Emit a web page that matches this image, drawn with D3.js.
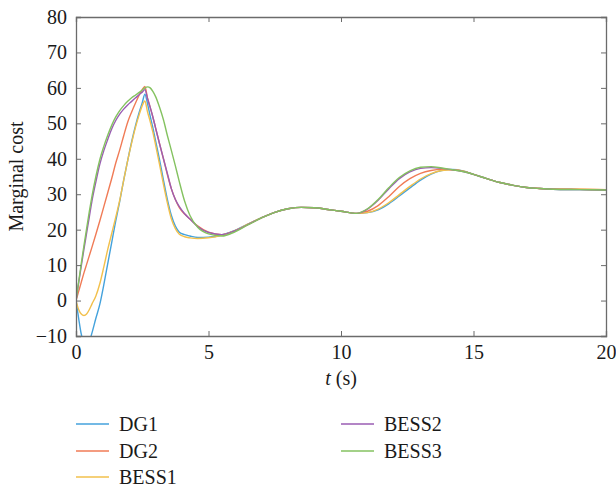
<!DOCTYPE html>
<html>
<head>
<meta charset="utf-8">
<script src="https://cdn.jsdelivr.net/npm/d3@7"></script>
<style>
  html, body { margin: 0; padding: 0; background: #fff; }
  text { font-family: "Liberation Serif", "Times New Roman", serif; fill: #1a1a1a; }
</style>
</head>
<body>
<svg id="chart" width="616" height="487"></svg>
<script>
const time = [0, 0.1, 0.2, 0.3, 0.4, 0.5, 0.6, 0.75, 0.9, 1.05, 1.2, 1.35, 1.5, 1.65, 1.8, 1.95,
  2.1, 2.25, 2.4, 2.5, 2.6, 2.7, 2.8, 2.9, 3.0, 3.15, 3.3, 3.45, 3.6, 3.75, 3.9, 4.1, 4.3, 4.6, 5.0,
  5.5, 6.0, 6.5, 7.0, 7.5, 8.0, 8.5, 9.0, 9.5, 10.0, 10.6, 11.0, 11.4, 11.8, 12.2, 12.6, 13.0, 13.4, 13.8, 14.2,
  14.6, 15.0, 15.5, 16.0, 16.5, 17.0, 17.5, 18.0, 19.0, 20.0];

const dg1 = [0, -5, -9.5, -11.8, -12.5, -11.6, -9.2, -5, -1, 4.5, 10.5, 16.5, 22.5, 28, 34, 39.5,
  44.8, 49.5, 53.5, 55.8, 58.2, 55.5, 52, 48.8, 45.2, 39.8, 34, 28.5, 24, 21, 19.3, 18.6, 18.2, 17.8, 17.9,
  18.5, 19.8, 21.6, 23.4, 24.9, 25.9, 26.3, 26.2, 25.7, 25.2, 24.6, 24.8, 25.6, 27.3, 29.5, 31.8, 34.0, 35.7, 36.7, 37.0,
  36.6, 35.6, 34.4, 33.3, 32.5, 31.9, 31.6, 31.4, 31.3, 31.2];

const dg2 = [0, 2.6, 5.2, 7.8, 10.2, 12.6, 15, 18.7, 22.5, 26.5, 30.5, 34.5, 38.8, 42.5, 46.5, 50.3,
  53.2, 55.8, 58.2, 59.5, 60.4, 57, 54.5, 51.8, 48.8, 44.3, 40, 35.5, 31.5, 28.5, 26.2, 24.4, 23, 21, 19.3,
  18.6, 19.7, 21.5, 23.3, 24.9, 25.9, 26.3, 26.2, 25.7, 25.2, 24.6, 25.2, 26.8, 29.3, 32.2, 34.4, 35.9, 36.7, 37.0, 36.9,
  36.5, 35.6, 34.4, 33.3, 32.5, 31.9, 31.6, 31.5, 31.4, 31.3];

const bess1 = [0, -2.5, -3.8, -4.2, -3.8, -2.6, -1, 1.3, 4.8, 9.5, 14.5, 19, 23.5, 28.3, 34, 39.5,
  44.5, 49, 52.8, 55, 56.3, 53.2, 50.5, 47.5, 44, 38.5, 32.8, 27.5, 23, 20.3, 18.7, 18.0, 17.7, 17.5, 17.7,
  18.4, 19.7, 21.6, 23.4, 24.9, 25.9, 26.3, 26.2, 25.7, 25.2, 24.6, 24.8, 25.8, 27.6, 29.9, 32.2, 34.3, 35.8, 36.7, 36.9,
  36.6, 35.6, 34.4, 33.3, 32.5, 31.9, 31.6, 31.5, 31.4, 31.3];

const bess2 = [0, 5, 9.8, 14.5, 19, 23.5, 28, 33.5, 38.5, 42.3, 45.5, 48.5, 50.8, 52.6, 54, 55.2,
  56.2, 57.2, 58.2, 58.8, 59.5, 57, 54.5, 51.8, 48.8, 44.3, 40, 35.8, 31.5, 28.5, 26.5, 24.5, 23, 20.8, 19.2,
  18.6, 19.7, 21.5, 23.3, 24.9, 25.9, 26.3, 26.2, 25.7, 25.2, 24.6, 25.8, 28.3, 31.5, 34.4, 36.3, 37.3, 37.5, 37.3, 36.9,
  36.4, 35.6, 34.4, 33.3, 32.5, 31.9, 31.6, 31.4, 31.3, 31.2];

const bess3 = [0, 5.3, 10.5, 15.5, 20.3, 25, 29.3, 35, 39.8, 43.5, 46.7, 49.5, 51.8, 53.6, 55, 56.2,
  57.2, 58, 58.8, 59.4, 60, 60.3, 60, 59, 57.6, 54.6, 51, 46.5, 42.3, 38, 33.5, 28, 24, 20.6, 18.8,
  18.2, 19.4, 21.4, 23.3, 24.9, 25.9, 26.3, 26.2, 25.7, 25.2, 24.6, 25.9, 28.5, 31.8, 34.7, 36.6, 37.6, 37.8, 37.4, 36.9,
  36.4, 35.6, 34.4, 33.3, 32.5, 31.9, 31.6, 31.4, 31.3, 31.2];

const seriesNames = ["DG1", "DG2", "BESS1", "BESS2", "BESS3"];
const seriesValues = [dg1, dg2, bess1, bess2, bess3];
const seriesColors = ["#44a2dc", "#f07b56", "#f2c04c", "#9a5db3", "#84c260"];

const xTicks = [0, 5, 10, 15, 20];
const yTicks = [-10, 0, 10, 20, 30, 40, 50, 60, 70, 80];

const margin = {left: 76, top: 17, right: 10, bottom: 151};
const W = 616, H = 487;
const pw = W - margin.left - margin.right;
const ph = H - margin.top - margin.bottom;

const svg = d3.select("#chart");
const x = d3.scaleLinear().domain([0, 20]).range([0, pw]);
const y = d3.scaleLinear().domain([-10, 80]).range([ph, 0]);

const g = svg.append("g").attr("transform", `translate(${margin.left},${margin.top})`);

g.append("defs").append("clipPath").attr("id", "clip")
  .append("rect").attr("x", 0).attr("y", 0).attr("width", pw).attr("height", ph);

const line = d3.line().x(d => x(d[0])).y(d => y(d[1])).curve(d3.curveMonotoneX);

const plot = g.append("g").attr("clip-path", "url(#clip)");
seriesValues.forEach((vals, i) => {
  plot.append("path")
    .datum(time.map((t, k) => [t, vals[k]]))
    .attr("fill", "none")
    .attr("stroke", seriesColors[i])
    .attr("stroke-width", 1.4)
    .attr("d", line);
});

const axisColor = "#6b6b6b";
const fs = "20px";
const ff = '"Liberation Serif", "Times New Roman", serif';

const axBottom = g.append("g").attr("transform", `translate(0,${ph})`)
  .call(d3.axisBottom(x).tickValues(xTicks).tickSize(-5).tickPadding(9).tickFormat(d3.format("d")));
const axTop = g.append("g")
  .call(d3.axisTop(x).tickValues(xTicks.slice(1, -1)).tickSize(-5).tickFormat(""));
const axLeft = g.append("g")
  .call(d3.axisLeft(y).tickValues(yTicks).tickSize(-5).tickPadding(9).tickFormat(d => d < 0 ? "\u2212" + Math.abs(d) : d));
const axRight = g.append("g").attr("transform", `translate(${pw},0)`)
  .call(d3.axisRight(y).tickValues(yTicks.slice(1, -1)).tickSize(-5).tickFormat(""));

[axBottom, axTop, axLeft, axRight].forEach(a => {
  a.attr("font-family", ff);
  a.selectAll("path.domain").attr("stroke", axisColor).attr("stroke-width", 1.3);
  a.selectAll(".tick line").attr("stroke", axisColor).attr("stroke-width", 1);
  a.selectAll("text").style("font-family", ff).style("font-size", fs).attr("fill", "#1a1a1a");
});

const xt = svg.append("text")
  .attr("x", margin.left + pw / 2).attr("y", 385)
  .attr("text-anchor", "middle").style("font-size", fs).style("font-family", ff);
xt.append("tspan").style("font-style", "italic").text("t");
xt.append("tspan").text(" (s)");

svg.append("text")
  .attr("transform", `translate(23,${margin.top + ph / 2}) rotate(-90)`)
  .attr("text-anchor", "middle").style("font-size", fs).style("font-family", ff)
  .text("Marginal cost");

const legendPos = [[76, 424], [76, 451], [76, 477], [341, 424], [341, 451]];
seriesNames.forEach((name, i) => {
  const [lx, ly] = legendPos[i];
  svg.append("line").attr("x1", lx).attr("x2", lx + 33).attr("y1", ly).attr("y2", ly)
    .attr("stroke", seriesColors[i]).attr("stroke-width", 1.6);
  svg.append("text").attr("x", lx + 43).attr("y", ly + 7).style("font-size", fs).style("font-family", ff).text(name);
});
</script>
</body>
</html>
